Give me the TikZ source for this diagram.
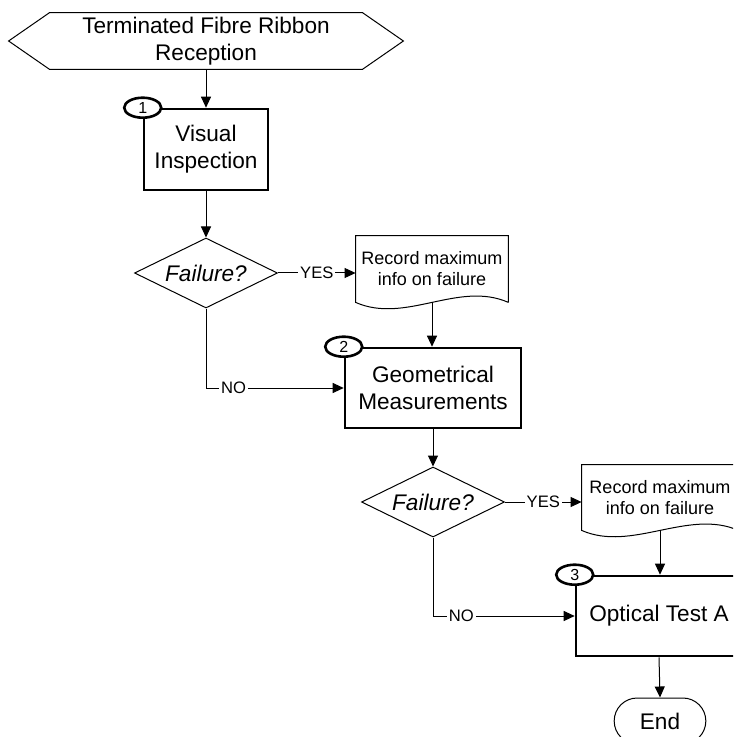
\documentclass[tikz,border=0pt]{standalone}
\usepackage{fontspec}
\setmainfont{Liberation Sans}
\usetikzlibrary{shapes.geometric}
\usetikzlibrary{shapes.misc}
\usetikzlibrary{arrows.meta}

\tikzset{
  flow/.style={draw=black,line width=0.5pt},
  arr/.style={flow,-{Triangle[length=5.5pt,width=5pt]}},
  stepbox/.style={rectangle,draw=black,line width=1.3pt,align=center,inner sep=0pt,
    font=\fontsize{11.3}{13.5}\selectfont},
  decide/.style={diamond,aspect=2.04,draw=black,line width=0.5pt,inner sep=0pt,
    minimum width=71.5pt,minimum height=35pt,font=\fontsize{11.3}{13.5}\selectfont\itshape},
  docnote/.style={align=center,inner sep=0pt,font=\fontsize{9}{10.5}\selectfont},
  num/.style={ellipse,draw=black,line width=1.3pt,fill=white,inner sep=0pt,
    minimum width=18.5pt,minimum height=10pt,font=\fontsize{8}{9}\selectfont},
  answer/.style={fill=white,inner sep=1pt,font=\fontsize{8.3}{10}\selectfont},
}

\begin{document}
\begin{tikzpicture}[x=0.5pt,y=-0.5pt]
\useasboundingbox (0,0) rectangle (733,737);
\clip (0,0) rectangle (733,737);

% reception (hexagon)
\node[align=center,inner sep=0pt,minimum width=156pt,minimum height=28pt,
  font=\fontsize{11.3}{13.5}\selectfont] (rcv) at (206,41) {Terminated Fibre Ribbon\\Reception};
\draw[flow] (rcv.north west) -- (rcv.north east) -- ([xshift=20.5pt]rcv.east)
  -- (rcv.south east) -- (rcv.south west) -- ([xshift=-20.5pt]rcv.west) -- cycle;

% step 1
\node[stepbox,minimum width=62pt,minimum height=40.5pt] (visual) at (206,149.5) {Visual\\Inspection};
\node[num] (n1) at (visual.north west) {1};
\node[decide] (fail1) at (206,273) {Failure?};
\node[docnote,minimum width=76pt,minimum height=33pt] (rec1) at (432,269) {Record maximum\\info on failure};
\draw[flow] (rec1.south east) -- (rec1.north east) -- (rec1.north west) -- (rec1.south west)
  .. controls +(25pt,-11pt) and +(-25pt,11pt) .. (rec1.south east);

% step 2
\node[stepbox,minimum width=88pt,minimum height=40pt] (geom) at (433,388) {Geometrical\\Measurements};
\node[num] (n2) at (geom.north west) {2};
\node[decide] (fail2) at (433,502) {Failure?};
\node[docnote,minimum width=78pt,minimum height=32.5pt] (rec2) at (660,497.5) {Record maximum\\info on failure};
\draw[flow] (rec2.south east) -- (rec2.north east) -- (rec2.north west) -- (rec2.south west)
  .. controls +(25pt,-11pt) and +(-25pt,11pt) .. (rec2.south east);

% step 3
\node[stepbox,minimum width=83pt,minimum height=40pt] (optA) at (659,616) {Optical Test A};
\node[num] (n3) at (optA.north west) {3};
\node[rounded rectangle,draw=black,line width=0.5pt,minimum width=52.5pt,minimum height=23pt,
  font=\fontsize{11.3}{13.5}\selectfont] (fin) at (660,721) {End};

% connectors
\draw[arr] (rcv.south) -- (visual.north);
\draw[arr] (visual.south) -- (fail1.north);
\draw[arr] (fail1.east) -- node[answer] {YES} (fail1.east -| rec1.west);
\draw[arr] (rec1.south) -- (rec1.south |- geom.north);
\draw[arr] (fail1.south) |- node[answer,pos=0.6] {NO} (geom.west);
\draw[arr] (geom.south) -- (fail2.north);
\draw[arr] (fail2.east) -- node[answer] {YES} (fail2.east -| rec2.west);
\draw[arr] (rec2.south) -- (rec2.south |- optA.north);
\draw[arr] (fail2.south) |- node[answer,pos=0.6] {NO} (optA.west);
\draw[arr] (optA.south) -- (fin.north);

\end{tikzpicture}
\end{document}
